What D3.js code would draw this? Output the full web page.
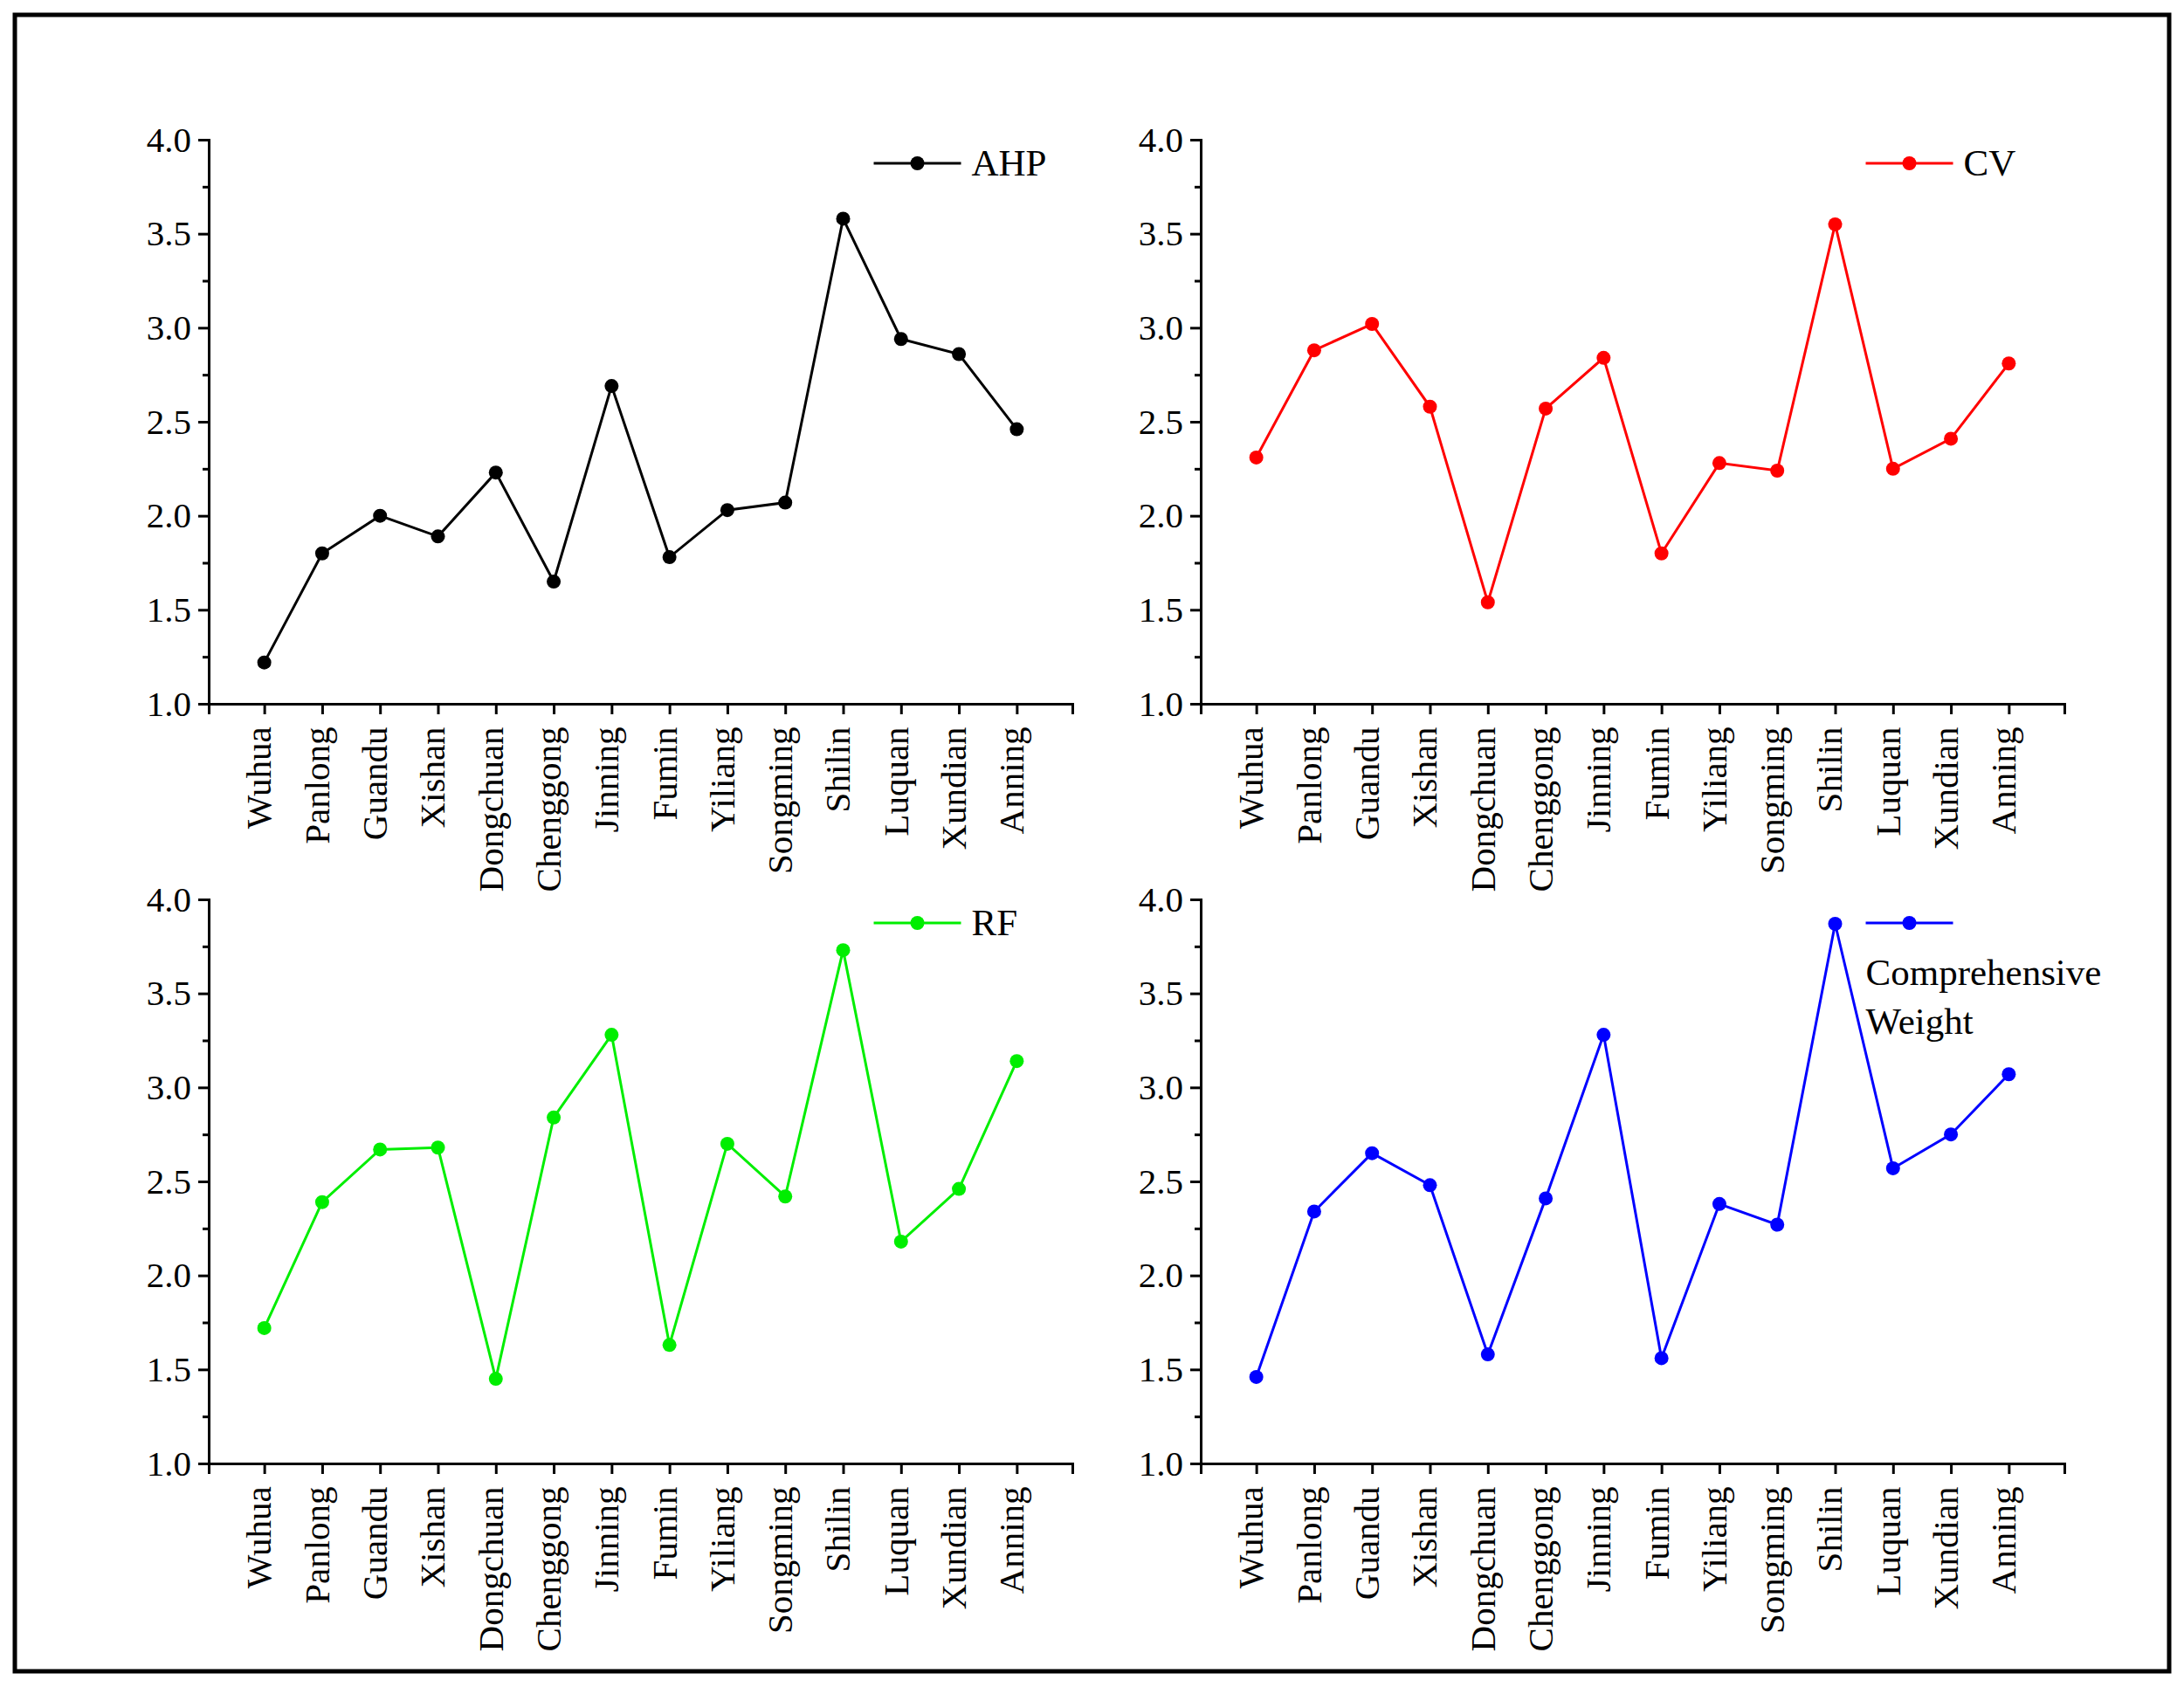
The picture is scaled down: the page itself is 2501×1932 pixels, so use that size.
<!DOCTYPE html>
<html><head><meta charset="utf-8">
<script src="https://cdn.jsdelivr.net/npm/d3@7"></script>
<style>body{margin:0;background:#fff}</style></head>
<body><svg id="c" width="2501" height="1932"></svg>
<script>
const categories=["Wuhua","Panlong","Guandu","Xishan","Dongchuan","Chenggong","Jinning","Fumin","Yiliang","Songming","Shilin","Luquan","Xundian","Anning"];
const ahp=[1.22,1.80,2.00,1.89,2.23,1.65,2.69,1.78,2.03,2.07,3.58,2.94,2.86,2.46];
const cv=[2.31,2.88,3.02,2.58,1.54,2.57,2.84,1.80,2.28,2.24,3.55,2.25,2.41,2.81];
const rf=[1.72,2.39,2.67,2.68,1.45,2.84,3.28,1.63,2.70,2.42,3.73,2.18,2.46,3.14];
const cw=[1.46,2.34,2.65,2.48,1.58,2.41,3.28,1.56,2.38,2.27,3.87,2.57,2.75,3.07];
const yTicks=[1.0,1.5,2.0,2.5,3.0,3.5,4.0];
const panels=[
 {name:["AHP"],vals:ahp,color:"#000000",x0:239,y0:160},
 {name:["CV"],vals:cv,color:"#ff0000",x0:1375,y0:160},
 {name:["RF"],vals:rf,color:"#00ee00",x0:239,y0:1030},
 {name:["Comprehensive","Weight"],vals:cw,color:"#0000ff",x0:1375,y0:1030}
];
const svg=d3.select("#c");
svg.append("rect").attr("x",17).attr("y",17).attr("width",2467).attr("height",1897).attr("fill","none").attr("stroke","#000").attr("stroke-width",5);
const W=989,H=646,font="Liberation Serif, Times New Roman, serif";
panels.forEach(p=>{
 const g=svg.append("g").attr("transform",`translate(${p.x0},${p.y0})`);
 const x=d3.scalePoint().domain(categories).range([0,W]).padding(0.96);
 const y=d3.scaleLinear().domain([1,4]).range([H,0]);
 const ya=g.append("g").call(d3.axisLeft(y).tickValues(yTicks).tickFormat(d3.format(".1f")).tickSize(12).tickPadding(8));
 g.append("g").call(d3.axisLeft(y).tickValues(d3.range(1.25,4,0.5)).tickFormat("").tickSize(7));
 const xa=g.append("g").attr("transform",`translate(0,${H})`).call(d3.axisBottom(x).tickSize(12).tickPadding(10));
 xa.selectAll("text").attr("transform","rotate(-90)").attr("text-anchor","end").attr("dx","-0.4em").attr("dy","-0.05em").attr("x",-10).attr("y",0).style("dominant-baseline","middle");
 [ya,xa].forEach(a=>{a.selectAll("path,line").attr("stroke","#000").attr("stroke-width",3);a.selectAll("text").attr("font-family",font).attr("font-size",41).attr("fill","#000");});
 g.selectAll(".tick line").attr("stroke-width",3);
 g.selectAll(".domain").attr("stroke-width",3);
 const line=d3.line().x((d,i)=>x(categories[i])).y(d=>y(d));
 g.append("path").datum(p.vals).attr("d",line).attr("fill","none").attr("stroke",p.color).attr("stroke-width",3);
 g.selectAll("circle.pt").data(p.vals).enter().append("circle").attr("cx",(d,i)=>x(categories[i])).attr("cy",d=>y(d)).attr("r",8).attr("fill",p.color);
 const lx=W*0.77, ly=27;
 g.append("line").attr("x1",lx).attr("x2",lx+100).attr("y1",ly).attr("y2",ly).attr("stroke",p.color).attr("stroke-width",3);
 g.append("circle").attr("cx",lx+50).attr("cy",ly).attr("r",8).attr("fill",p.color);
 if(p.name.length===1){
  g.append("text").attr("x",lx+112).attr("y",ly+14).text(p.name[0]).attr("font-family",font).attr("font-size",43);
 } else {
  p.name.forEach((t,i)=>g.append("text").attr("x",lx).attr("y",ly+71+i*56).text(t).attr("font-family",font).attr("font-size",43));
 }
});
</script></body></html>
